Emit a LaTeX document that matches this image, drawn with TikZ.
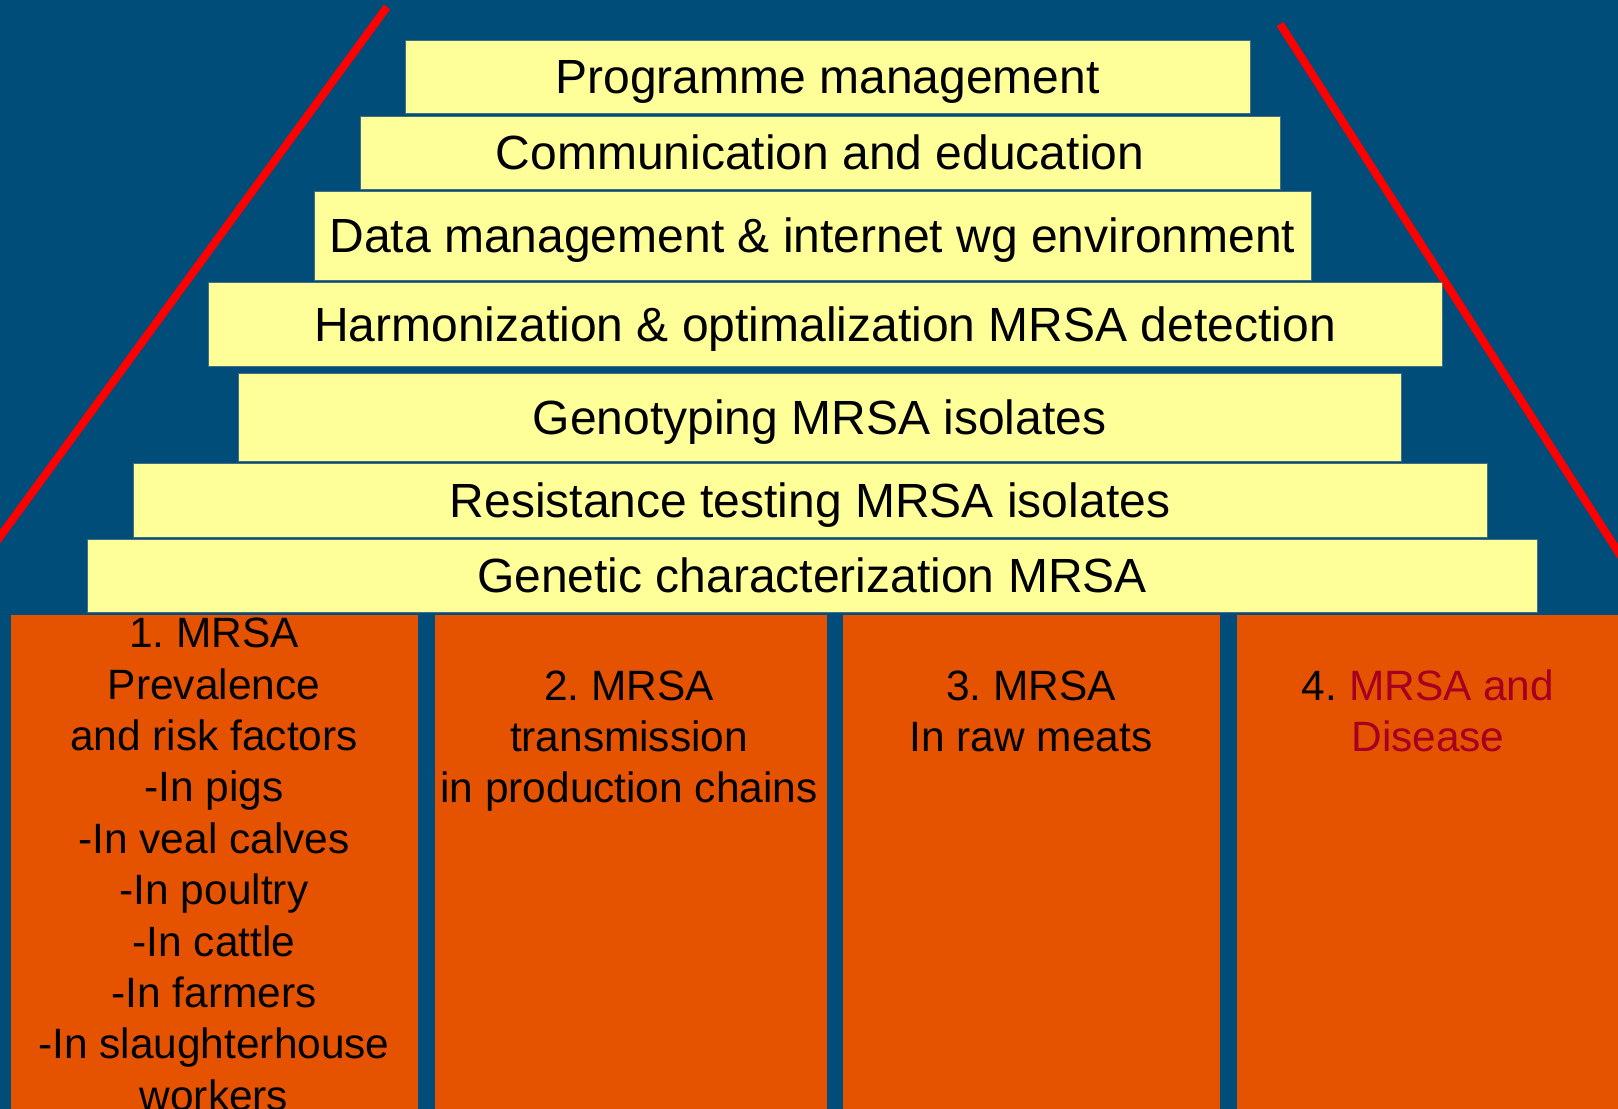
\documentclass[tikz,border=0pt]{standalone}
\usepackage{fontspec}
\setmainfont{Liberation Sans}
\frenchspacing
\definecolor{bg}{RGB}{0,77,122}
\definecolor{pale}{RGB}{255,255,153}
\definecolor{orng}{RGB}{230,83,0}
\definecolor{dred}{RGB}{165,0,33}
\definecolor{edge}{RGB}{70,110,130}
\begin{document}
\begin{tikzpicture}[x=0.5pt,y=-0.5pt,
  ybox/.style={fill=pale, draw=edge, line width=0.4pt, inner sep=0pt,
    font=\fontsize{24}{28}\selectfont, text height=20pt, text depth=2.82pt},
  obox/.style={fill=orng, draw=none, inner sep=0pt},
  coltext/.style={inner sep=0pt, anchor=base, font=\fontsize{21.2}{25.7}\selectfont},
  redline/.style={draw=red, line width=4pt}]
\useasboundingbox (0,0) rectangle (1618,1109);
\clip (0,0) rectangle (1618,1109);
\fill[bg] (0,0) rectangle (1618,1109);
% red slopes
\coordinate (lt) at (387,7);
\coordinate (lb) at (-20,564);
\coordinate (rt) at (1280,24);
\coordinate (rb) at (1638,583);
\draw[redline] (lt) -- (lb);
\draw[redline] (rt) -- (rb);
% pyramid layers
\node[ybox, minimum width=422.5pt, minimum height=36.5pt] (b1) at (827.5,76.5) {Programme management};
\node[ybox, minimum width=460pt, minimum height=36.5pt] (b2) at (820,152.5) {Communication and education};
\node[ybox, minimum width=498.5pt, minimum height=44.5pt] (b3) at (812.5,235.5) {Data management \& internet wg environment};
\node[ybox, minimum width=617pt, minimum height=42pt] (b4) at (825,324) {Harmonization \& optimalization MRSA detection};
\node[ybox, minimum width=581.5pt, minimum height=44pt] (b5) at (819.5,417) {Genotyping MRSA isolates};
\node[ybox, minimum width=677pt, minimum height=37pt] (b6) at (810,500) {Resistance testing MRSA isolates};
\node[ybox, minimum width=725pt, minimum height=36.5pt] (b7) at (812,575.5) {Genetic characterization MRSA};
% pillars
\node[obox, minimum width=203.5pt, minimum height=260pt, anchor=north west] (c1) at (11,615) {};
\node[obox, minimum width=196pt, minimum height=260pt, anchor=north west] (c2) at (435,615) {};
\node[obox, minimum width=188.5pt, minimum height=260pt, anchor=north west] (c3) at (843,615) {};
\node[obox, minimum width=195pt, minimum height=260pt, anchor=north west] (c4) at (1237,615) {};
\node[coltext] (t1) at (214,647.6) {\begin{tabular}[t]{@{}c@{}}1. MRSA\\Prevalence\\and risk factors\\-In pigs\\-In veal calves\\-In poultry\\-In cattle\\-In farmers\\-In slaughterhouse\\workers\end{tabular}};
\node[coltext] (t2) at (629,700) {\begin{tabular}[t]{@{}c@{}}2. MRSA\\transmission\\in production chains\end{tabular}};
\node[coltext] (t3) at (1031,700) {\begin{tabular}[t]{@{}c@{}}3. MRSA\\In raw meats\end{tabular}};
\node[coltext] (t4) at (1428,700) {\begin{tabular}[t]{@{}c@{}}4. \textcolor{dred}{MRSA and}\\\textcolor{dred}{Disease}\end{tabular}};
\end{tikzpicture}
\end{document}
